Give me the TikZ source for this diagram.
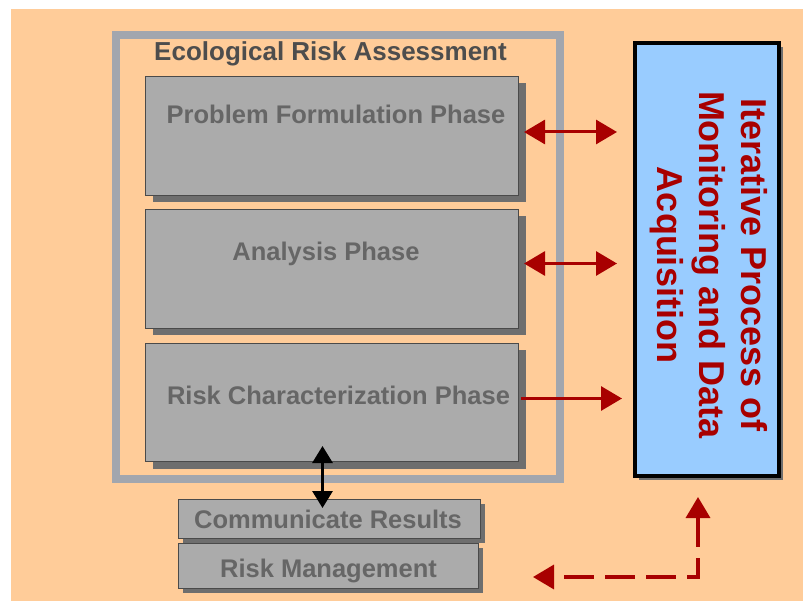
\documentclass[tikz,border=0pt]{standalone}
\usepackage{fontspec}
\setmainfont{Liberation Sans}
\usetikzlibrary{arrows.meta,shadows,calc}
\definecolor{peach}{HTML}{FFCC99}
\definecolor{framegray}{HTML}{A2A6AE}
\definecolor{boxgray}{HTML}{ABABAB}
\definecolor{boxline}{HTML}{4A4A4A}
\definecolor{shadowgray}{HTML}{6E6E6E}
\definecolor{boxtext}{HTML}{666666}
\definecolor{titletext}{HTML}{4D4D4D}
\definecolor{skyblue}{HTML}{99CCFF}
\definecolor{darkred}{HTML}{A80000}
\begin{document}
\begin{tikzpicture}[x=1pt,y=-1pt,
  phasebox/.style={draw=boxline, line width=1pt, fill=boxgray, minimum width=373pt,
    anchor=north west, inner sep=0pt,
    drop shadow={shadow xshift=7pt, shadow yshift=-7pt, fill=shadowgray, opacity=1}},
  smallbox/.style={draw=boxline, line width=1pt, fill=boxgray,
    anchor=north west, inner sep=0pt,
    drop shadow={shadow xshift=4pt, shadow yshift=-4pt, fill=shadowgray, opacity=1}},
  boxlabel/.style={font=\bfseries\fontsize{25.5}{30}\selectfont, text=boxtext, anchor=base, inner sep=0pt},
  redline/.style={draw=darkred, line width=3pt},
  redtip/.tip={Triangle[width=24pt,length=21pt]},
  blacktip/.tip={Triangle[width=20pt,length=17pt]}
]
\useasboundingbox (0,0) rectangle (803,601);
\fill[white] (0,0) rectangle (803,601);
\fill[peach] (11,9) rectangle (803,601);

% outer frame
\node[draw=framegray, line width=8pt, minimum width=444.5pt, minimum height=444pt,
  anchor=north west, inner sep=0pt] (frame) at (111.5,31) {};
\node[font=\bfseries\fontsize{26}{30}\selectfont, text=titletext, anchor=base, inner sep=0pt]
  (title) at (330.5,61) {Ecological Risk Assessment};

% phase boxes
\node[phasebox, minimum height=119pt] (p1) at (145,76) {};
\node[phasebox, minimum height=119pt] (p2) at (145,209) {};
\node[phasebox, minimum height=118pt] (p3) at (145,343) {};
\node[boxlabel] (p1t) at (336,124) {Problem Formulation Phase};
\node[boxlabel] (p2t) at (326,261) {Analysis Phase};
\node[boxlabel] (p3t) at (338.5,404) {Risk Characterization Phase};

% lower boxes
\node[smallbox, minimum width=302pt, minimum height=39pt] (comm) at (178,499) {};
\node[smallbox, minimum width=300pt, minimum height=45pt] (mgmt) at (178,543) {};
\node[boxlabel] (commt) at (328,528) {Communicate Results};
\node[boxlabel] (mgmtt) at (328.5,577) {Risk Management};

% blue box
\node[draw=black, line width=4pt, fill=skyblue, minimum width=144pt, minimum height=433pt,
  anchor=north west, inner sep=0pt,
  drop shadow={shadow xshift=4pt, shadow yshift=-4pt, fill=shadowgray, opacity=1}]
  (blue) at (633,41) {};
\node[rotate=-90, text=darkred, align=center, font=\bfseries\fontsize{36}{42}\selectfont, inner sep=0pt]
  (bluet) at (709,265) {Iterative Process of\\Monitoring and Data\\Acquisition};

% red arrows
\draw[redline, redtip-redtip] ([xshift=5pt,yshift=4pt]p1.east)
  -- ([xshift=-16pt,yshift=4pt]p1.east -| blue.west);
\draw[redline, redtip-redtip] ([xshift=5pt,yshift=5.5pt]p2.east)
  -- ([xshift=-16pt,yshift=5.5pt]p2.east -| blue.west);
\draw[redline, -redtip] ([xshift=2pt,yshift=4pt]p3.east)
  -- ([xshift=-11pt,yshift=4pt]p3.east -| blue.west);

% black arrow
\draw[line width=3pt, blacktip-blacktip] ([xshift=-7pt,yshift=-9pt]comm.north)
  -- ([xshift=-7pt,yshift=16pt]comm.north |- p3.south);

% dashed feedback
\coordinate (corner) at (698,577);
\coordinate (dup) at (698,497);
\coordinate (dleft) at (533,577);
\draw[redline, line width=3.5pt, dash pattern=on 30pt off 11pt, redtip-redtip] (dup) -- (corner) -- (dleft);
\end{tikzpicture}
\end{document}
